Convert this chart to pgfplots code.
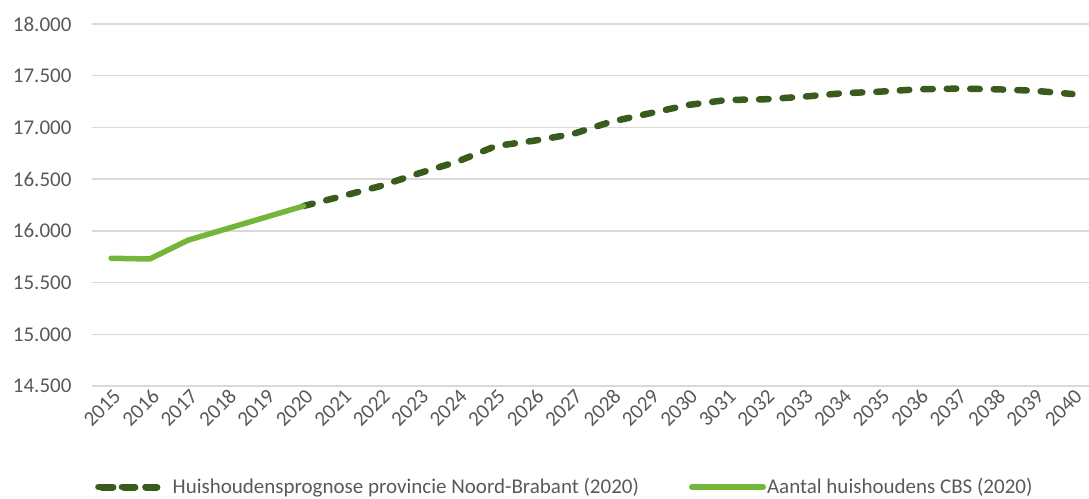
\documentclass[border=0pt]{standalone}
\usepackage{pgfplots}
\pgfplotsset{compat=1.18}
\usepackage{fontspec}
\setmainfont{Carlito}
\definecolor{darkg}{HTML}{3A5B1E}
\definecolor{lightg}{HTML}{74B63A}
\definecolor{gridc}{HTML}{D9D9D9}
\definecolor{txt}{HTML}{595959}
\begin{document}
\begin{tikzpicture}
\useasboundingbox (0,0) rectangle (1089pt,498pt);
\begin{axis}[
  at={(92pt,112pt)}, anchor=south west,
  scale only axis, width=997pt, height=362pt,
  xmin=-0.5, xmax=25.43, ymin=14500, ymax=18000,
  ytick={14500,15000,...,18000},
  xtick={0,...,25},
  xticklabels={2015,2016,2017,2018,2019,2020,2021,2022,2023,2024,2025,2026,2027,2028,2029,2030,3031,2032,2033,2034,2035,2036,2037,2038,2039,2040},
  ymajorgrids, grid style={gridc, line width=1.5pt},
  axis line style={draw=none}, major tick length=0pt,
  scaled y ticks=false,
  tick label style={font=\fontsize{21}{25}\selectfont, text=txt},
  yticklabel style={xshift=-17pt, /pgf/number format/.cd, fixed, 1000 sep={.}, assume math mode=true},
  xticklabel style={rotate=45, anchor=east, xshift=3pt, yshift=-9pt},
  legend columns=2,
  legend style={at={(axis description cs:0,0)}, anchor=west, yshift=-101pt, xshift=0pt,
    draw=none, fill=none, font=\fontsize{21}{25}\selectfont, text=txt,
    /tikz/every even column/.append style={column sep=48pt}},
]
\addplot[darkg, line width=6.5pt, line cap=round, dash pattern=on 9.5pt off 14pt,
  legend image code/.code={\draw[darkg, line width=7pt, line cap=round, dash pattern=on 11pt off 11pt] (3.5pt,0pt) -- (58.5pt,0pt); \path (0pt,0pt) -- (69pt,0pt);}]
  coordinates {(5,16240) (6,16335) (7,16433) (8,16556) (9,16669) (10,16820) (11,16872) (12,16936) (13,17055) (14,17136) (15,17217) (16,17265) (17,17272) (18,17297) (19,17330) (20,17346) (21,17369) (22,17375) (23,17369) (24,17355) (25,17323)};
\addlegendentry{Huishoudensprognose provincie Noord-Brabant (2020)}
\addplot[lightg, line width=5.5pt, line cap=round, line join=round,
  legend image code/.code={\draw[lightg, line width=6pt] (0pt,0pt) -- (71pt,0pt);}]
  coordinates {(0,15735) (1,15728) (2,15910) (3,16020) (4,16130) (5,16240)};
\addlegendentry{\hspace{-1pt}Aantal huishoudens CBS (2020)}
\end{axis}
\end{tikzpicture}
\end{document}
